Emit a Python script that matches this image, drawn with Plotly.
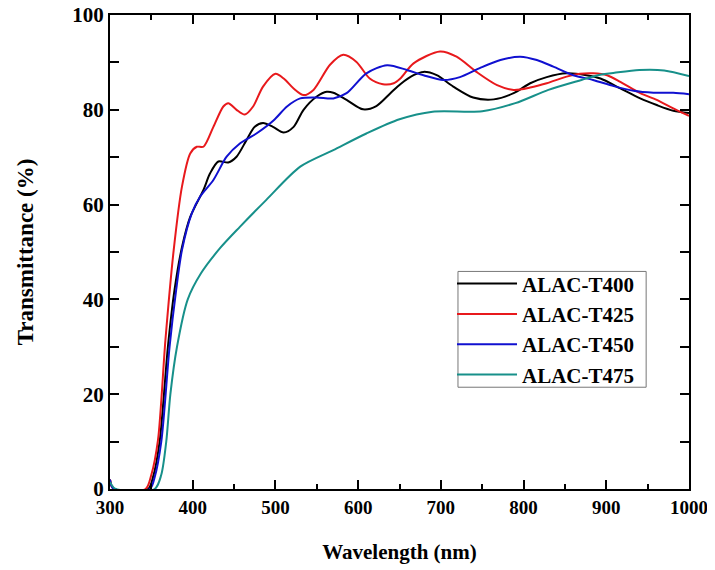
import plotly.graph_objects as go

# ALAC-T400 (black)
wl_400 = [300, 304, 346, 352, 360, 370, 378, 387, 397, 413, 421, 431, 443, 453, 465, 475, 485, 497, 510, 522, 534,
          550, 562, 570, 586, 606, 622, 639, 651, 667, 679, 695, 715, 739, 764, 788, 808, 828, 852, 876, 893, 917,
          941, 961, 981, 1000]
t_400 = [2.0, 0.1, 0.0, 2.5, 10, 30, 42, 51, 57.4, 63.1, 66.6, 69.1, 68.9, 70.1, 73.6, 76.4, 77.2, 76.4, 75.2, 76.4, 80.0,
         82.8, 83.8, 83.6, 82.1, 80.1, 80.8, 83.5, 85.4, 87.3, 88.0, 87.3, 84.9, 82.6, 82.2, 83.5, 85.6, 86.9, 87.7,
         87.3, 86.6, 84.5, 82.4, 81.0, 79.8, 79.3]

# ALAC-T425 (red)
wl_425 = [300, 304, 343, 350, 358, 367, 377, 387, 397, 405, 413, 425, 437, 443, 453, 463, 473, 485, 500, 510, 522,
          534, 546, 566, 582, 598, 614, 630, 643, 651, 667, 699, 719, 743, 768, 788, 808, 828, 852, 868, 884, 901,
          917, 941, 961, 981, 1000]
t_425 = [2.0, 0.1, 0.0, 3.0, 10.3, 31.4, 50.4, 63.8, 70.8, 72.2, 72.2, 76.4, 80.7, 81.4, 80.0, 79.0, 80.7, 84.9, 87.6,
         86.6, 84.5, 83.1, 84.2, 89.5, 91.6, 90.1, 86.6, 85.4, 85.6, 86.6, 89.8, 92.3, 91.2, 88.0, 85.2, 84.2, 84.7,
         85.6, 87.0, 87.6, 87.7, 87.3, 85.9, 83.5, 82.1, 80.3, 78.7]

# ALAC-T450 (blue)
wl_450 = [300, 304, 348, 354, 362, 372, 380, 387, 399, 409, 425, 441, 457, 477, 498, 514, 530, 550, 570, 586, 610,
          635, 659, 679, 703, 723, 747, 772, 796, 816, 836, 860, 884, 909, 933, 957, 981, 1000]
t_450 = [2.0, 0.1, 0.0, 2.5, 10, 30, 42, 50.4, 58.2, 61.7, 65.2, 70.1, 72.9, 75.0, 77.8, 80.7, 82.4, 82.6, 82.4, 83.5,
         87.7, 89.4, 88.4, 87.3, 86.3, 86.9, 88.8, 90.5, 91.2, 90.5, 89.1, 87.3, 86.3, 85.0, 84.0, 83.6, 83.6, 83.3]

# ALAC-T475 (teal)
wl_475 = [300, 306, 354, 362, 368, 373, 381, 394, 410, 433, 457, 489, 530, 570, 610, 650, 690, 750, 790, 830, 870,
          890, 910, 940, 970, 1000]
t_475 = [1.5, 0.1, 0.0, 3.0, 10, 20, 30, 40, 45.5, 50.8, 55.3, 61.0, 68.0, 71.5, 75.0, 78.0, 79.6, 79.7, 81.4, 84.2,
         86.3, 87.3, 87.8, 88.4, 88.3, 87.1]

series = [
    ("ALAC-T400", wl_400, t_400, "#000000"),
    ("ALAC-T425", wl_425, t_425, "#e8191c"),
    ("ALAC-T450", wl_450, t_450, "#1010d0"),
    ("ALAC-T475", wl_475, t_475, "#17908a"),
]

x_ticks = [300, 400, 500, 600, 700, 800, 900, 1000]
y_ticks = [0, 20, 40, 60, 80, 100]

fig = go.Figure()
for name, xs, ys, col in series:
    fig.add_trace(go.Scatter(x=xs, y=ys, name=name, mode="lines",
                             line=dict(color=col, width=2, shape="spline", smoothing=0.8)))

serif = "Liberation Serif"
axis_common = dict(showline=True, linecolor="black", linewidth=2, mirror="allticks",
                   ticks="inside", ticklen=9, tickwidth=1.5, tickcolor="black",
                   showgrid=False, zeroline=False, ticklabeloverflow="allow")

fig.update_xaxes(range=[300, 1000], tickvals=x_ticks,
                 minor=dict(dtick=50, ticks="inside", ticklen=5, tickwidth=1.5, tickcolor="black", showgrid=False),
                 tickfont=dict(family=serif, size=19, color="black", weight="bold"),
                 title=dict(text="Wavelength (nm)", font=dict(family=serif, size=21, color="black", weight="bold"),
                            standoff=28),
                 **axis_common)
fig.update_yaxes(range=[0, 100], tickvals=y_ticks,
                 minor=dict(dtick=10, ticks="inside", ticklen=9, tickwidth=1.5, tickcolor="black", showgrid=False),
                 tickfont=dict(family=serif, size=21, color="black", weight="bold"),
                 title=dict(text="Transmittance (%)", font=dict(family=serif, size=23, color="black", weight="bold"),
                            standoff=32),
                 **axis_common)

# legend frame drawn as a shape (paper coordinates)
fig.add_shape(type="rect", xref="paper", yref="paper",
              x0=0.601, x1=0.926, y0=0.2147, y1=0.459,
              line=dict(color="#777777", width=1), fillcolor="white", layer="below")

fig.update_layout(
    width=707, height=562,
    margin=dict(l=102, r=26, t=7, b=81, autoexpand=False),
    paper_bgcolor="white", plot_bgcolor="white",
    showlegend=True,
    legend=dict(x=0.5907, y=0.4758, xanchor="left", yanchor="top",
                bgcolor="rgba(0,0,0,0)", borderwidth=0,
                itemwidth=60, tracegroupgap=0,
                font=dict(family=serif, size=21, color="black", weight="bold")),
)

fig.write_html("out.html")
